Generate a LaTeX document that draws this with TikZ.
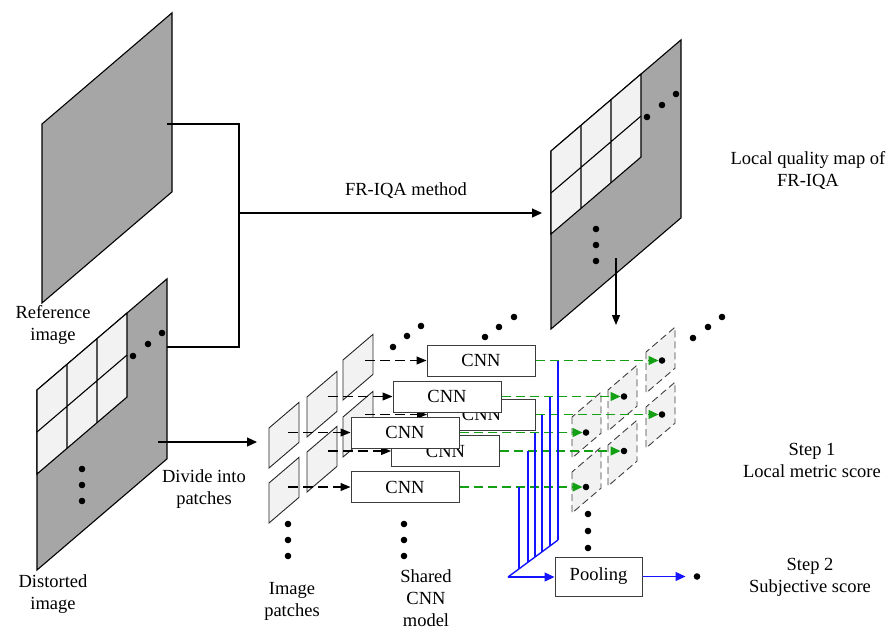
\documentclass[tikz,border=0pt]{standalone}
\usepackage{fontspec}
\setmainfont{Liberation Serif}
\usetikzlibrary{arrows.meta}

\definecolor{imgfill}{RGB}{166,166,166}
\definecolor{cellfill}{RGB}{242,242,242}
\definecolor{boxline}{RGB}{60,60,60}
\definecolor{scoregreen}{RGB}{20,160,20}
\definecolor{poolblue}{RGB}{20,20,255}

\begin{document}
\begin{tikzpicture}[x=1pt,y=-1pt,
  font=\fontsize{18.5}{22}\selectfont,
  slab/.style={yslant=0.855},
  photo/.style={draw=black, line width=1.1pt, fill=imgfill},
  gridcells/.style={draw=black, line width=1.1pt, fill=cellfill},
  impatch/.style={draw=black!85, line width=0.9pt, fill=cellfill},
  scorepatch/.style={draw=black!75, line width=0.9pt, fill=cellfill, dash pattern=on 7pt off 4pt},
  cnn/.style={draw=boxline, line width=1pt, fill=white, minimum width=108pt, minimum height=31pt, inner sep=0pt},
  blob/.style={circle, fill=black, inner sep=0pt, minimum size=6.6pt},
  txt/.style={align=center, inner sep=0pt},
  flow/.style={line width=1.2pt, -{Triangle[length=10pt,width=9pt]}},
  feed/.style={line width=1.1pt, dash pattern=on 10pt off 5pt, -{Triangle[length=10pt,width=8pt]}},
  scoreline/.style={scoregreen, line width=1.3pt, dash pattern=on 9pt off 5pt, -{Triangle[length=10pt,width=9pt]}},
  poolline/.style={poolblue, line width=1.4pt},
]
\useasboundingbox (0,0) rectangle (892,630);

% reference image
\begin{scope}[shift={(42,124)}, slab]
  \path[photo] (0,0) -- (0,179) -- (130,179) -- (130,0) -- cycle;
\end{scope}

% distorted image with its patch grid
\begin{scope}[shift={(37,390)}, slab]
  \path[photo] (0,0) -- (0,180) -- (130,180) -- (130,0) -- cycle;
  \path[gridcells] (0,0) -- (0,84) -- (90,84) -- (90,0) -- cycle;
  \draw[line width=1.1pt] (30,0) -- (30,84) (60,0) -- (60,84) (0,42) -- (90,42);
\end{scope}

% local quality map of FR-IQA
\begin{scope}[shift={(551,151)}, slab]
  \path[photo] (0,0) -- (0,178) -- (130,178) -- (130,0) -- cycle;
  \path[gridcells] (0,0) -- (0,83) -- (90,83) -- (90,0) -- cycle;
  \draw[line width=1.1pt] (30,0) -- (30,83) (60,0) -- (60,83) (0,42) -- (90,42);
\end{scope}

% ellipsis dots
\foreach \p in {(133,356),(148,344),(162,333),(82,469),(82,485),(82,501),
                (647,117),(662,105),(676,94),(596,229),(596,245),(596,261),
                (393,347),(407,336),(421,326),(485,337),(499,327),(514,317),
                (693,338),(708,327),(722,317),
                (288,524),(288,540),(288,556),(404,524),(404,540),(404,556),
                (588,514),(588,531),(588,548)}
  \fill \p circle[radius=3.3pt];

% connections between the full images
\coordinate (refport) at (167,124);
\coordinate (disport) at (167,347);
\coordinate (busbot) at (239,347);
\coordinate (busmid) at (239,213);
\coordinate (mapin) at (542,213);
\draw[line width=1.2pt] (refport) -| (busbot) -- (disport);
\draw[flow] (busmid) -- (mapin);
\node[txt] (ttl) at (406,191) {FR-IQA method};

\coordinate (disout) at (158,442);
\coordinate (patin) at (257,442);
\draw[flow] (disout) -- (patin);

\coordinate (mapout) at (616,258);
\coordinate (scorein) at (616,325);
\draw[line width=1.2pt, -{Triangle[length=10pt,width=8pt]}] (mapout) -- (scorein);

% image patches
\foreach \x/\y in {343/360, 343/417, 307/397, 307/452, 269/428, 269/483} {
  \begin{scope}[shift={(\x,\y)}, slab]
    \path[impatch] (0,0) -- (0,40) -- (30,40) -- (30,0) -- cycle;
  \end{scope}
}

% local metric score patches
\foreach \x/\y in {572/417, 572/472, 608/390, 608/445, 646/352, 646/407} {
  \begin{scope}[shift={(\x,\y)}, slab]
    \path[scorepatch] (0,0) -- (0,41) -- (29,41) -- (29,0) -- cycle;
  \end{scope}
}

% patch feeds into the shared CNN
\coordinate (pA) at (365,360.5);
\coordinate (pB) at (328,396.5);
\coordinate (pC) at (365,414.5);
\coordinate (pD) at (288,432.5);
\coordinate (pE) at (328,451);
\coordinate (pF) at (288,487);

\node[cnn] (A) at (481,360.5) {};
\node[cnn] (B) at (447,396.5) {};
\node[cnn] (C) at (481.5,414.5) {};
\node[cnn] (D) at (405,432.5) {};
\node[cnn] (E) at (445.5,451) {};
\node[cnn] (F) at (405,487) {};

\draw[feed] (pA) -- (A.west);
\draw[feed] (pB) -- (B.west);
\draw[feed] (pC) -- (C.west);
\draw[feed] (pD) -- (D.west);
\draw[feed] (pE) -- (E.west);
\draw[feed] (pF) -- (F.west);

\node[cnn] (C) at (481.5,414.5) {CNN};
\node[cnn] (E) at (445.5,451) {CNN};
\node[cnn] (B) at (447,396.5) {CNN};
\node[cnn] (D) at (405,432.5) {CNN};
\node[cnn] (A) at (481,360.5) {CNN};
\node[cnn] (F) at (405,487) {CNN};

% local scores
\node[blob] (sA) at (662,360.5) {};
\node[blob] (sB) at (624,396.5) {};
\node[blob] (sC) at (662,414.5) {};
\node[blob] (sD) at (586,432.5) {};
\node[blob] (sE) at (624,451) {};
\node[blob] (sF) at (586,487) {};

\draw[scoreline] (A.east) -- (sA.west);
\draw[scoreline] (B.east) -- (sB.west);
\draw[scoreline] (C.east) -- (sC.west);
\draw[scoreline] (D.east) -- (sD.west);
\draw[scoreline] (E.east) -- (sE.west);
\draw[scoreline] (F.east) -- (sF.west);

% pooling of all local scores
\coordinate (diagTop) at (558,540);
\coordinate (diagBot) at (508,577);
\path (diagBot) -- (diagTop)
  coordinate[pos=0.22] (qF) coordinate[pos=0.40] (qE) coordinate[pos=0.54] (qD)
  coordinate[pos=0.68] (qC) coordinate[pos=0.84] (qB) coordinate[pos=1] (qA);
\foreach \b in {A,B,C,D,E,F}
  \draw[poolline] (q\b |- \b.east) -- (q\b);
\draw[poolline] (diagTop) -- (diagBot);

\node[cnn, minimum width=87pt, minimum height=39pt] (pool) at (598.5,576.5) {Pooling};
\node[blob] (final) at (697,576.5) {};
\draw[poolline, -{Triangle[length=10pt,width=9pt]}] (diagBot) -- (diagBot -| pool.west);
\draw[poolline, -{Triangle[length=10pt,width=9pt]}, shorten >=8pt] (pool.east) -- (final.west);

% captions
\node[txt] (maplbl) at (808,170) {Local quality map of\\FR-IQA};
\node[txt] (reflbl) at (53,325) {Reference\\image};
\node[txt] (dislbl) at (53,594) {Distorted\\image};
\node[txt] (divlbl) at (204,489) {Divide into\\patches};
\node[txt] (patlbl) at (292,601) {Image\\patches};
\node[txt] (shrlbl) at (426,598) {Shared\\CNN\\model};
\node[txt] (s1lbl) at (812,460) {Step 1\\Local metric score};
\node[txt] (s2lbl) at (810,577) {Step 2\\Subjective score};
\end{tikzpicture}
\end{document}
